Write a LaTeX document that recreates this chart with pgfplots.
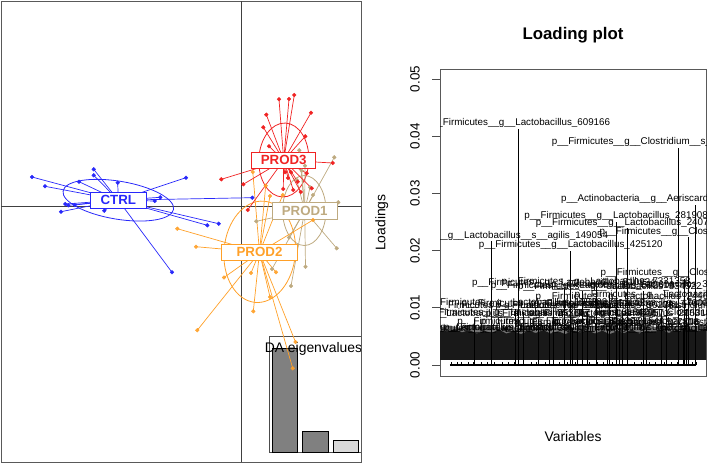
\documentclass[border=0pt]{standalone}
\usepackage{fontspec}
\setmainfont{Liberation Sans}
\usepackage{pgfplots}
\pgfplotsset{compat=1.18}
\usepackage{pgfplotstable}
\usetikzlibrary{shapes.geometric}

\definecolor{cctrl}{RGB}{40,40,250}
\definecolor{cprod1}{RGB}{190,170,128}
\definecolor{cprod2}{RGB}{255,160,40}
\definecolor{cprod3}{RGB}{240,35,35}
\newcommand\dus{\_\_}

% ---- discriminant scores (LD1, LD2), same units on both axes ----
\pgfplotstableread{
x y
-209 29
-196 19.7
-162 24.3
-147.3 36.7
-147.3 30.7
-123.3 23.3
-55 28.3
-80.7 8.7
-86.3 5
11.3 8.3
-175.7 2
-172.7 0.7
-166.3 1
-180 -5.7
-136.7 -4.7
-33.7 -19.3
-22.3 -17.7
-69 -66.3
}\ctrl
\pgfplotstableread{
x y
58.3 55.7
93.3 48.7
64 40.3
60.7 35.3
69 18.7
55.7 26
72 11
97.3 3.7
15.3 -15.3
48 -31.5
95.7 -42.3
64.5 -60.7
31 -63
50 -80
}\prodone
\pgfplotstableread{
x y
-63.7 -22.7
-45 -40.7
-17 -71.5
10 -67
35 -66.3
29 -91
12.3 -105.3
-43.7 -124.2
54.5 -136
51.7 -162.3
11.8 34
24.7 20.3
29 10
41.7 11
72 -14
}\prodtwo
\pgfplotstableread{
x y
38 106.7
48 107
53.3 111
25.3 91.3
70 93.3
22.3 78.7
64.3 69.7
28 59.7
91.7 43
-19.7 26.7
2.3 21.7
6.7 -4
44 33.7
50 33.7
65.7 32.7
47 28
56.7 24.3
42.3 17
52.3 16
70.7 17.7
59.7 14
}\prodthree

% ---- loadings ----
\pgfplotstableread{
i l
279 0.0413
930 0.0380
997 0.0280
676 0.0250
723 0.0239
970 0.0223
171 0.0216
492 0.0200
955 0.0151
464 0.0133
595 0.0136
786 0.0130
650 0.0126
540 0.0129
722 0.0109
880 0.0112
268 0.0098
300 0.0093
420 0.0096
560 0.0094
700 0.0097
860 0.0093
960 0.0098
99 0.0080
360 0.0081
520 0.0079
690 0.0080
880 0.0081
404 0.0066
500 0.0065
640 0.0063
800 0.0066
950 0.0064
}\loads

\tikzset{lbl/.style={font=\fontsize{9.8}{10}\selectfont, inner sep=0pt}}

\begin{document}
\begin{tikzpicture}[x=1pt,y=1pt]
\useasboundingbox (0,0) rectangle (708,464);

% ===== inset: DA eigenvalues =====
\begin{axis}[at={(269pt,11.7pt)}, anchor=south west, width=92.5pt, height=116.3pt,
  scale only axis, xmin=0.07, xmax=3.73, ymin=0, ymax=116.3,
  xtick=\empty, ytick=\empty, axis line style={black!70, line width=0.8pt},
  axis background/.style={fill=white}, clip=false]
\addplot[ybar, bar width=1, bar shift=0pt, fill=black!50, draw=black, line width=0.6pt]
  coordinates {(0.7,104) (1.9,21.3)};
\addplot[ybar, bar width=1, bar shift=0pt, fill=black!15, draw=black, line width=0.6pt]
  coordinates {(3.1,12)};
\node[font=\fontsize{13.9}{14}\selectfont, inner sep=0pt] at (axis description cs:0.481,0.888) {DA eigenvalues};
\end{axis}

% ===== scatter of discriminant functions =====
\begin{axis}[at={(1pt,2pt)}, anchor=south west, width=360pt, height=461pt,
  scale only axis, xmin=-240, xmax=120, ymin=-256, ymax=205,
  xtick=\empty, ytick=\empty, axis line style={black!65, line width=0.8pt}, clip=true]
\draw[black!75, line width=0.8pt] (axis cs:-240,0) -- (axis cs:120,0);
\draw[black!75, line width=0.8pt] (axis cs:0,-256) -- (axis cs:0,205);
% ellipses
\node[ellipse, draw=cctrl, line width=0.8pt, minimum width=112pt, minimum height=38pt, inner sep=0pt, rotate=-9.4] at (axis cs:-122.7,5.8) {};
\node[ellipse, draw=cprod1, line width=0.8pt, minimum width=43.4pt, minimum height=70pt, inner sep=0pt] at (axis cs:63.3,-4.5) {};
\node[ellipse, draw=cprod2, line width=0.8pt, minimum width=71.4pt, minimum height=101.6pt, inner sep=0pt, rotate=-5] at (axis cs:18.7,-45.8) {};
\node[ellipse, draw=cprod3, line width=0.8pt, minimum width=50pt, minimum height=74pt, inner sep=0pt, rotate=-2.5] at (axis cs:42.8,46) {};
% stars
\addplot[cctrl, line width=0.7pt, quiver={u={-122.7-\thisrow{x}}, v={5.8-\thisrow{y}}}] table {\ctrl};
\addplot[cprod1, line width=0.7pt, quiver={u={63.7-\thisrow{x}}, v={-4.7-\thisrow{y}}}] table {\prodone};
\addplot[cprod2, line width=0.7pt, quiver={u={18.5-\thisrow{x}}, v={-46.3-\thisrow{y}}}] table {\prodtwo};
\addplot[cprod3, line width=0.7pt, quiver={u={42.7-\thisrow{x}}, v={45.8-\thisrow{y}}}] table {\prodthree};
% points
\addplot[only marks, mark=*, mark size=1.9pt, color=cctrl] table {\ctrl};
\addplot[only marks, mark=*, mark size=1.9pt, color=cprod1] table {\prodone};
\addplot[only marks, mark=*, mark size=1.9pt, color=cprod2, opacity=0.9] table {\prodtwo};
\addplot[only marks, mark=*, mark size=1.9pt, color=cprod3] table {\prodthree};
% labels
\tikzset{grp/.style={fill=white, line width=0.8pt, inner sep=0pt, font=\bfseries\fontsize{13.3}{14}\selectfont}}
\node[grp, draw=cctrl, text=cctrl, minimum width=55.3pt, minimum height=15.7pt] at (axis cs:-122.7,5.8) {CTRL};
\node[grp, draw=cprod1, text=cprod1, minimum width=65.3pt, minimum height=16.7pt] at (axis cs:63.7,-4.7) {PROD1};
\node[grp, draw=cprod2, text=cprod2, minimum width=75.6pt, minimum height=16pt] at (axis cs:18.5,-46.3) {PROD2};
\node[grp, draw=cprod3, text=cprod3, minimum width=64pt, minimum height=16.3pt] at (axis cs:42.7,45.8) {PROD3};
\end{axis}

% ===== loading plot =====
\begin{axis}[at={(440pt,88pt)}, anchor=south west, width=266pt, height=306.7pt,
  scale only axis, xmin=-39, xmax=1041, ymin=-0.00192, ymax=0.0517,
  xtick=\empty, ytick={0,0.01,0.02,0.03,0.04,0.05},
  yticklabels={0.00,0.01,0.02,0.03,0.04,0.05}, scaled y ticks=false,
  ytick pos=left, tick align=outside, major tick length=8pt,
  tick style={black!70, line width=0.8pt},
  axis line style={black!65, line width=0.8pt},
  yticklabel shift=12pt,
  yticklabel style={rotate=90, anchor=south, font=\fontsize{13.4}{14}\selectfont, inner sep=0pt},
  clip=true]
% dense mass of overlapping small loadings and labels
\addplot[fill=black!55, draw=none] coordinates {
(-39,0.0009) (-39,0.0066) (0,0.0069) (40,0.0065) (80,0.0070) (120,0.0066) (160,0.0069)
(200,0.0065) (240,0.0068) (280,0.0064) (320,0.0069) (360,0.0065) (400,0.0068)
(440,0.0064) (480,0.0068) (520,0.0065) (560,0.0069) (600,0.0066) (640,0.0068)
(680,0.0064) (720,0.0069) (760,0.0066) (800,0.0070) (840,0.0066) (880,0.0069)
(920,0.0067) (960,0.0070) (1000,0.0068) (1041,0.0072) (1041,0.0009)};
\addplot[fill=black!90, draw=none] coordinates {
(-39,0.0009) (-39,0.0060) (-10,0.0058) (20,0.0063) (50,0.0057) (80,0.0061) (110,0.0055)
(140,0.0060) (170,0.0056) (200,0.0062) (230,0.0055) (260,0.0059) (290,0.0054)
(320,0.0060) (350,0.0056) (380,0.0061) (410,0.0055) (440,0.0059) (470,0.0054)
(500,0.0060) (530,0.0056) (560,0.0061) (590,0.0055) (620,0.0060) (650,0.0054)
(680,0.0059) (710,0.0056) (740,0.0062) (770,0.0055) (800,0.0060) (830,0.0057)
(860,0.0062) (890,0.0056) (920,0.0061) (950,0.0058) (980,0.0063) (1010,0.0059)
(1041,0.0064) (1041,0.0009)};
% baseline of all variables
\addplot[black, line width=1.3pt] coordinates {(1,0) (1001,0)};
\addplot[ycomb, black, line width=0.6pt] coordinates {
(5,0.0006) (30,0.0006) (48,0.0006) (77,0.0006) (95,0.0006) (130,0.0006) (152,0.0006)
(180,0.0006) (215,0.0006) (240,0.0006) (262,0.0006) (300,0.0006) (331,0.0006)
(350,0.0006) (390,0.0006) (420,0.0006) (445,0.0006) (478,0.0006) (510,0.0006)
(540,0.0006) (566,0.0006) (600,0.0006) (625,0.0006) (660,0.0006) (690,0.0006)
(720,0.0006) (748,0.0006) (780,0.0006) (810,0.0006) (835,0.0006) (870,0.0006)
(900,0.0006) (925,0.0006) (960,0.0006) (985,0.0006) (1000,0.0006)};
% loadings above the threshold
\addplot[ycomb, black, line width=0.7pt] table[x=i, y=l] {\loads};
% labels
\node[lbl] at (axis cs:279,0.0423) {p\dus Firmicutes\dus g\dus Lactobacillus\_609166};
\node[lbl, anchor=west] at (axis cs:414.5,0.0390) {p\dus Firmicutes\dus g\dus Clostridium\dus s\dus perfringens};
\node[lbl, anchor=west] at (axis cs:452.3,0.0290) {p\dus Actinobacteria\dus g\dus Aeriscardovia\_338719};
\node[lbl] at (axis cs:676,0.0260) {p\dus Firmicutes\dus g\dus Lactobacillus\_281908};
\node[lbl] at (axis cs:723,0.0249) {p\dus Firmicutes\dus g\dus Lactobacillus\_240719};
\node[lbl, anchor=west] at (axis cs:607.8,0.0233) {p\dus Firmicutes\dus g\dus Clostridium\_293016};
\node[lbl] at (axis cs:171,0.0226) {p\dus Firmicutes\dus g\dus Lactobacillus\dus s\dus agilis\_149054};
\node[lbl] at (axis cs:492,0.0210) {p\dus Firmicutes\dus g\dus Lactobacillus\_425120};
\node[lbl, anchor=west] at (axis cs:611.8,0.0161) {p\dus Firmicutes\dus g\dus Clostridium\_515047};
\node[lbl] at (axis cs:464,0.0143) {p\dus Firmicutes\dus g\dus Lactobacillus\_510934};
\node[lbl] at (axis cs:595,0.0146) {p\dus Firmicutes\dus g\dus Lactobacillus\_7331358};
\node[lbl] at (axis cs:786,0.0140) {p\dus Firmicutes\dus g\dus Lactobacillus\_350258};
\node[lbl] at (axis cs:650,0.0136) {p\dus Firmicutes\dus g\dus Lactobacillus\_334522};
\node[lbl] at (axis cs:540,0.0139) {p\dus Firmicutes\dus g\dus Lactobacillus\_592616};
\node[lbl] at (axis cs:722,0.0119) {p\dus Firmicutes\dus g\dus Lactobacillus\_244613};
\node[lbl] at (axis cs:880,0.0122) {p\dus Firmicutes\dus g\dus Lactobacillus\_276412};
\node[lbl] at (axis cs:268,0.0108) {p\dus Firmicutes\dus g\dus Lactobacillus\_109832};
\node[lbl] at (axis cs:300,0.0103) {p\dus Firmicutes\dus g\dus Lactobacillus\_583360};
\node[lbl] at (axis cs:420,0.0106) {p\dus Firmicutes\dus g\dus Lactobacillus\_161145};
\node[lbl] at (axis cs:560,0.0104) {p\dus Firmicutes\dus g\dus Lactobacillus\_302781};
\node[lbl] at (axis cs:700,0.0107) {p\dus Firmicutes\dus g\dus Lactobacillus\_470062};
\node[lbl] at (axis cs:860,0.0103) {p\dus Firmicutes\dus g\dus Clostridium\_197534};
\node[lbl] at (axis cs:960,0.0108) {p\dus Firmicutes\dus g\dus Lactobacillus\_620917};
\node[lbl] at (axis cs:99,0.0090) {p\dus Firmicutes\dus g\dus Lactobacillus\dus s\dus agilis\_253647};
\node[lbl] at (axis cs:360,0.0091) {p\dus Firmicutes\dus g\dus Lactobacillus\dus s\dus agilis\_318420};
\node[lbl] at (axis cs:520,0.0089) {p\dus Firmicutes\dus g\dus Lactobacillus\_440571};
\node[lbl] at (axis cs:690,0.0090) {p\dus Firmicutes\dus g\dus Lactobacillus\_205318};
\node[lbl] at (axis cs:880,0.0091) {p\dus Firmicutes\dus g\dus Clostridium\_361902};
\node[lbl] at (axis cs:404,0.0076) {p\dus Firmicutes\dus g\dus Lactobacillus\_332296};
\node[lbl] at (axis cs:500,0.0075) {p\dus Firmicutes\dus g\dus Lactobacillus\_181544};
\node[lbl] at (axis cs:640,0.0073) {p\dus Firmicutes\dus g\dus Lactobacillus\_527803};
\node[lbl] at (axis cs:800,0.0076) {p\dus Firmicutes\dus g\dus Lactobacillus\_264130};
\node[lbl] at (axis cs:950,0.0074) {p\dus Firmicutes\dus g\dus Clostridium\_419655};
\node[lbl] at (axis cs:40,0.0064) {p\dus Firmicutes\dus g\dus Lactobacillus\_128850};
\node[lbl] at (axis cs:200,0.0063) {p\dus Firmicutes\dus g\dus Lactobacillus\_390417};
\node[lbl] at (axis cs:350,0.0065) {p\dus Firmicutes\dus g\dus Lactobacillus\_275906};
\node[lbl] at (axis cs:600,0.0064) {p\dus Firmicutes\dus g\dus Lactobacillus\_463218};
\node[lbl] at (axis cs:850,0.0063) {p\dus Firmicutes\dus g\dus Lactobacillus\_538071};
\node[lbl] at (axis cs:1020,0.0065) {p\dus Firmicutes\dus g\dus Lactobacillus\_149920};
\end{axis}

\node[font=\bfseries\fontsize{16.8}{17}\selectfont, inner sep=0pt] at (573,429) {Loading plot};
\node[font=\fontsize{13.9}{14}\selectfont, inner sep=0pt] at (573,27.3) {Variables};
\node[font=\fontsize{13.9}{14}\selectfont, inner sep=0pt, rotate=90] at (381.7,241.3) {Loadings};
\end{tikzpicture}
\end{document}
